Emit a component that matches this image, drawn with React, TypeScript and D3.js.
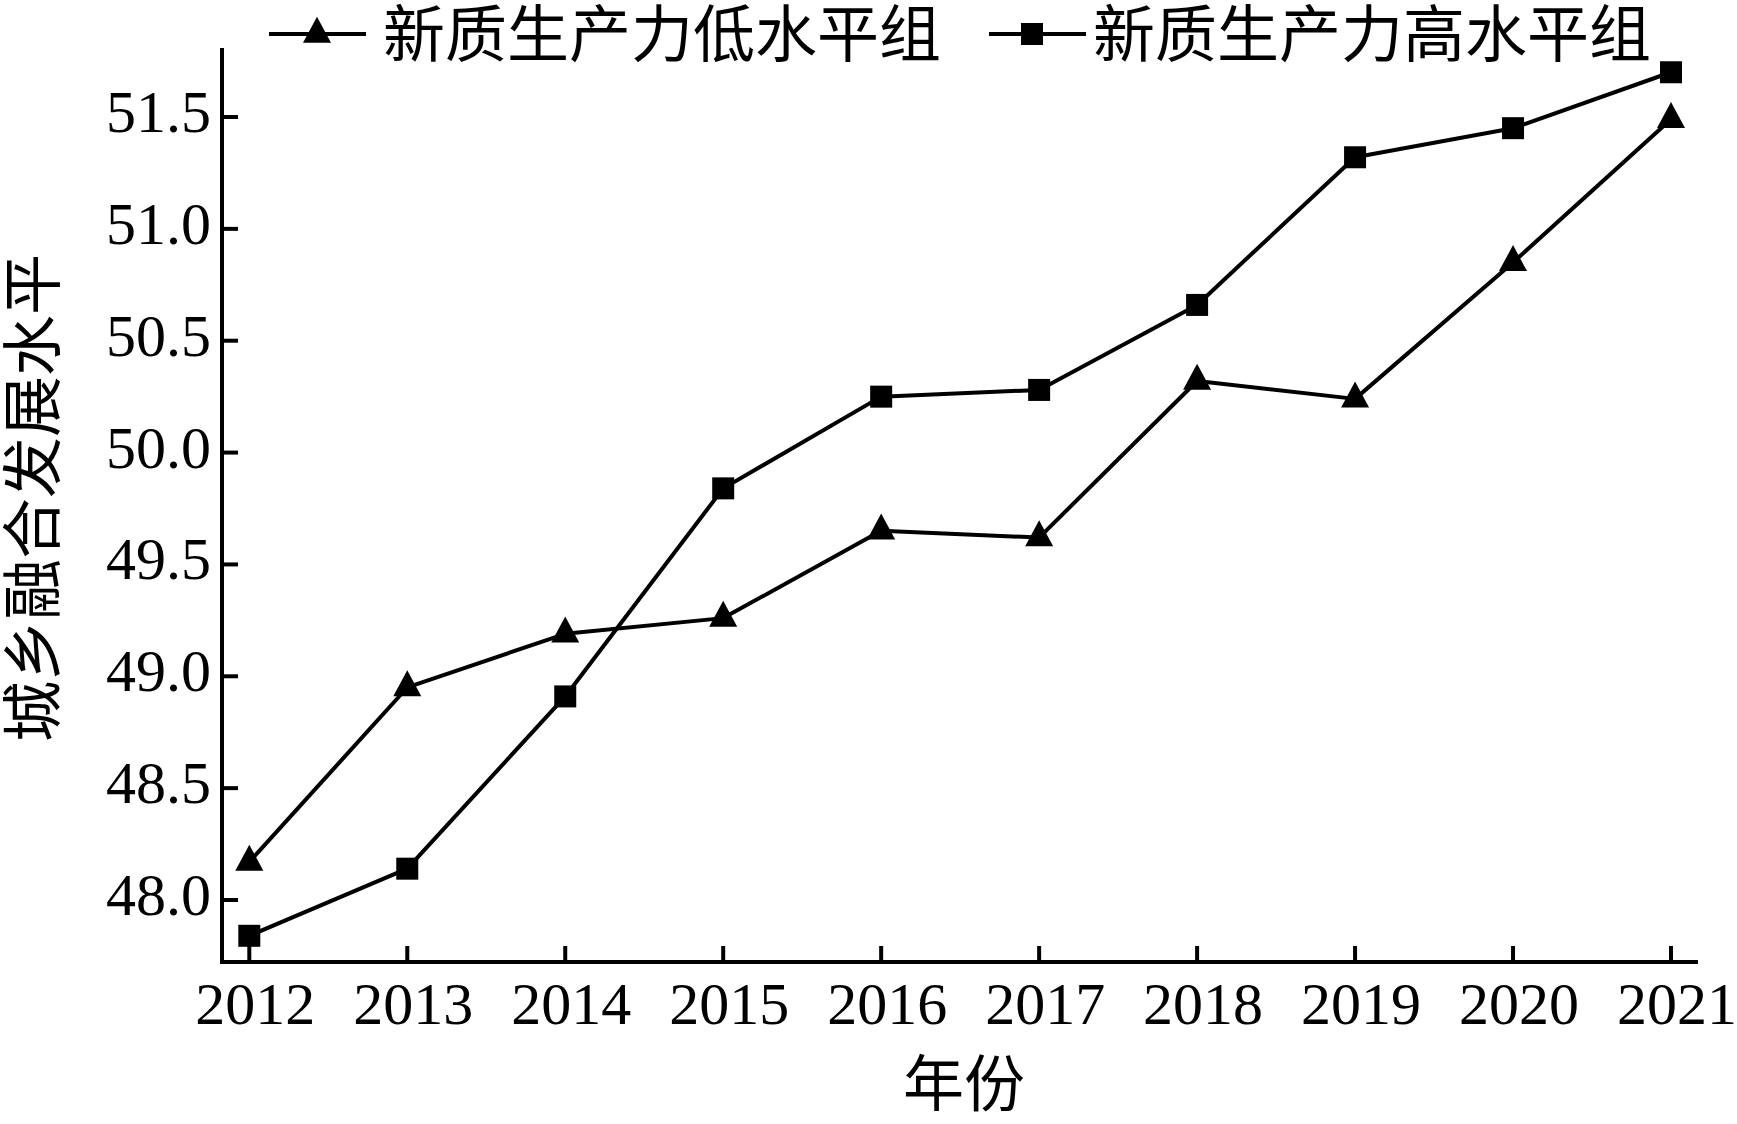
import React from "react";
import * as d3 from "d3";

const years = [2012, 2013, 2014, 2015, 2016, 2017, 2018, 2019, 2020, 2021];
const lowGroup = [48.17, 48.95, 49.19, 49.26, 49.65, 49.62, 50.32, 50.24, 50.85, 51.49];
const highGroup = [47.84, 48.14, 48.91, 49.84, 50.25, 50.28, 50.66, 51.32, 51.45, 51.70];
const yTicks = [48.0, 48.5, 49.0, 49.5, 50.0, 50.5, 51.0, 51.5];
const lowName = "新质生产力低水平组";
const highName = "新质生产力高水平组";
const xTitle = "年份";
const yTitle = "城乡融合发展水平";

const W = 1737;
const H = 1124;
const axisX = 222;
const axisY = 962;
const axisTop = 48;
const axisRight = 1698;

const numFont = "'Liberation Serif', 'DejaVu Serif', serif";
const cjkFont = "'Noto Sans CJK SC', 'Noto Sans CJK JP', sans-serif";

function Triangle({ x, y }: { x: number; y: number }) {
  const w = 28, h = 26;
  const p = [
    [x, y - (2 * h) / 3],
    [x + w / 2, y + h / 3],
    [x - w / 2, y + h / 3],
  ];
  return <polygon points={p.map((d) => d.join(",")).join(" ")} fill="#000" />;
}

function Square({ x, y }: { x: number; y: number }) {
  const s = 22;
  return <rect x={x - s / 2} y={y - s / 2} width={s} height={s} fill="#000" />;
}

export default function App() {
  const x = d3.scaleLinear().domain([2012, 2021]).range([249.3, 1671]);
  const y = d3.scaleLinear().domain([48.0, 51.5]).range([900, 117]);
  const line = d3
    .line<number>()
    .x((_, i) => x(years[i]))
    .y((d) => y(d));

  return (
    <svg
      width={W}
      height={H}
      style={{ position: "absolute", left: 0, top: 0, background: "#fff" }}
    >
      <rect x={0} y={0} width={W} height={H} fill="#fff" />
      {/* axes */}
      <line x1={axisX} y1={axisTop} x2={axisX} y2={axisY + 2} stroke="#000" strokeWidth={4} />
      <line x1={axisX - 2} y1={axisY} x2={axisRight} y2={axisY} stroke="#000" strokeWidth={4} />
      {yTicks.map((t) => (
        <g key={t}>
          <line x1={axisX} x2={axisX + 16} y1={y(t)} y2={y(t)} stroke="#000" strokeWidth={4} />
          <text
            x={211}
            y={y(t) + 15}
            textAnchor="end"
            fontFamily={numFont}
            fontSize={60}
            fill="#000"
          >
            {t.toFixed(1)}
          </text>
        </g>
      ))}
      {years.map((yr) => (
        <g key={yr}>
          <line x1={x(yr)} x2={x(yr)} y1={axisY} y2={axisY - 16} stroke="#000" strokeWidth={4} />
          <text
            x={x(yr) + 6}
            y={1024}
            textAnchor="middle"
            fontFamily={numFont}
            fontSize={60}
            fill="#000"
          >
            {yr}
          </text>
        </g>
      ))}
      {/* axis titles */}
      <text x={964} y={1106} textAnchor="middle" fontFamily={cjkFont} fontSize={61} fill="#000">
        {xTitle}
      </text>
      <text
        transform={`translate(55, 498) rotate(-90)`}
        textAnchor="middle"
        fontFamily={cjkFont}
        fontSize={61}
        fill="#000"
      >
        {yTitle}
      </text>
      {/* series */}
      <path d={line(lowGroup) || ""} fill="none" stroke="#000" strokeWidth={4} strokeLinejoin="round" />
      <path d={line(highGroup) || ""} fill="none" stroke="#000" strokeWidth={4} strokeLinejoin="round" />
      {lowGroup.map((v, i) => (
        <Triangle key={"l" + i} x={x(years[i])} y={y(v)} />
      ))}
      {highGroup.map((v, i) => (
        <Square key={"h" + i} x={x(years[i])} y={y(v)} />
      ))}
      {/* legend */}
      <line x1={269} x2={366} y1={34} y2={34} stroke="#000" strokeWidth={4} />
      <Triangle x={317} y={34} />
      <text x={383} y={57} fontFamily={cjkFont} fontSize={62} fill="#000">
        {lowName}
      </text>
      <line x1={989} x2={1086} y1={34} y2={34} stroke="#000" strokeWidth={4} />
      <Square x={1032} y={34} />
      <text x={1093} y={57} fontFamily={cjkFont} fontSize={62} fill="#000">
        {highName}
      </text>
    </svg>
  );
}
